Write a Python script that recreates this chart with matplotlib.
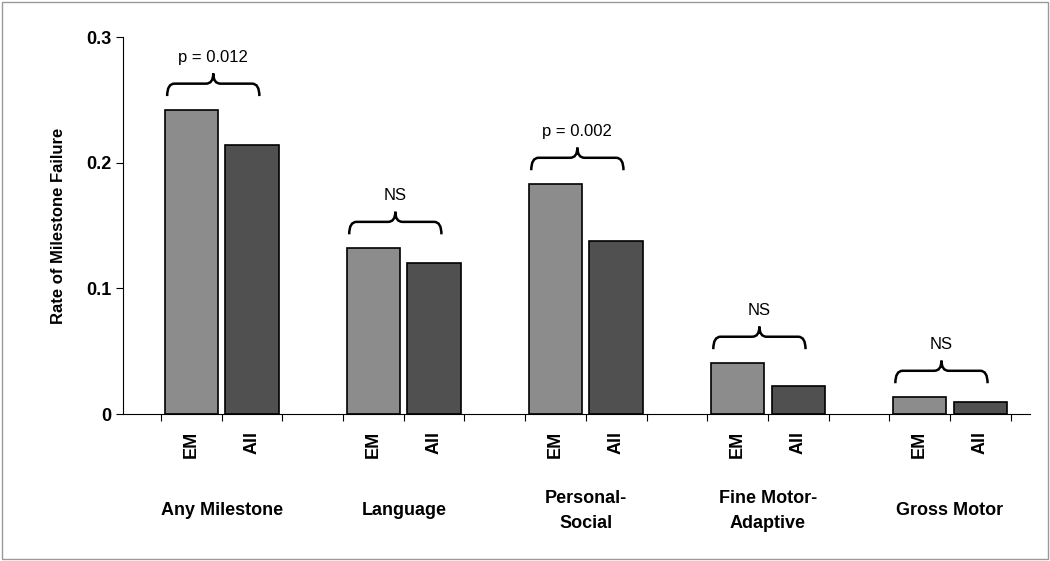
import matplotlib
matplotlib.use("Agg")
import matplotlib.pyplot as plt
from matplotlib.path import Path
from matplotlib.patches import PathPatch, Rectangle

plt.rcParams["font.family"] = "Liberation Sans"

categories = ["Any Milestone", "Language", "Personal-\nSocial", "Fine Motor-\nAdaptive", "Gross Motor"]
em_values = [0.242, 0.132, 0.183, 0.0406, 0.0135]
all_values = [0.214, 0.120, 0.138, 0.0223, 0.0095]
annotations = ["p = 0.012", "NS", "p = 0.002", "NS", "NS"]
bar_labels = ["EM", "All"]

fig = plt.figure(figsize=(10.5, 5.61), dpi=100)
ax = fig.add_axes([0.117, 0.262, 0.864, 0.672])
fig.patches.append(Rectangle((0.002, 0.003), 0.996, 0.994, transform=fig.transFigure,
                             fill=False, edgecolor="#999999", linewidth=1))

em_x = [3 * g + 0.5 for g in range(len(categories))]
all_x = [3 * g + 1.5 for g in range(len(categories))]
ax.bar(em_x, em_values, width=0.88, color="#8c8c8c", edgecolor="black", linewidth=1.2)
ax.bar(all_x, all_values, width=0.88, color="#505050", edgecolor="black", linewidth=1.2)

def brace(x0, x1, y0, h):
    xm = (x0 + x1) / 2
    ym = y0 + h * 0.55
    yt = y0 + h
    r = 0.12
    verts = [(x0, y0), (x0, ym), (x0 + r, ym), (xm - r, ym), (xm, ym), (xm, yt),
             (xm, ym), (xm + r, ym), (x1 - r, ym), (x1, ym), (x1, y0)]
    codes = [Path.MOVETO, Path.CURVE3, Path.CURVE3, Path.LINETO, Path.CURVE3, Path.CURVE3,
             Path.CURVE3, Path.CURVE3, Path.LINETO, Path.CURVE3, Path.CURVE3]
    ax.add_patch(PathPatch(Path(verts, codes), fill=False, lw=1.8, edgecolor="black"))
    return xm, yt

for g, (e, a, t) in enumerate(zip(em_values, all_values, annotations)):
    y0 = max(e, a) + 0.011
    xm, yt = brace(3 * g + 0.1, 3 * g + 1.62, y0, 0.018)
    ax.text(xm, yt + 0.007, t, ha="center", va="bottom", fontsize=12)
    ax.text(3 * g + 1, -0.077, categories[g], ha="center", va="center",
            fontsize=13, fontweight="bold", linespacing=1.6)

ax.set_xlim(-0.63, 14.32)
ax.set_ylim(0, 0.3)
ax.set_yticks([0, 0.1, 0.2, 0.3])
ax.set_yticklabels(["0", "0.1", "0.2", "0.3"], fontsize=13, fontweight="bold")
ax.set_xticks(range(15))
ax.set_xticklabels([])
ax.set_xticks(em_x + all_x, minor=True)
ax.set_xticklabels([bar_labels[0]] * 5 + [bar_labels[1]] * 5, minor=True,
                   rotation=90, fontsize=13, fontweight="bold")
ax.tick_params(axis="x", which="minor", length=0, pad=12)
ax.tick_params(axis="x", which="major", length=5, direction="out")
ax.tick_params(axis="y", length=5, direction="out")
ax.spines["top"].set_visible(False)
ax.spines["right"].set_visible(False)
ax.set_ylabel("Rate of Milestone Failure", fontsize=12, fontweight="bold", labelpad=14)

fig.savefig("out.png", dpi=100)
